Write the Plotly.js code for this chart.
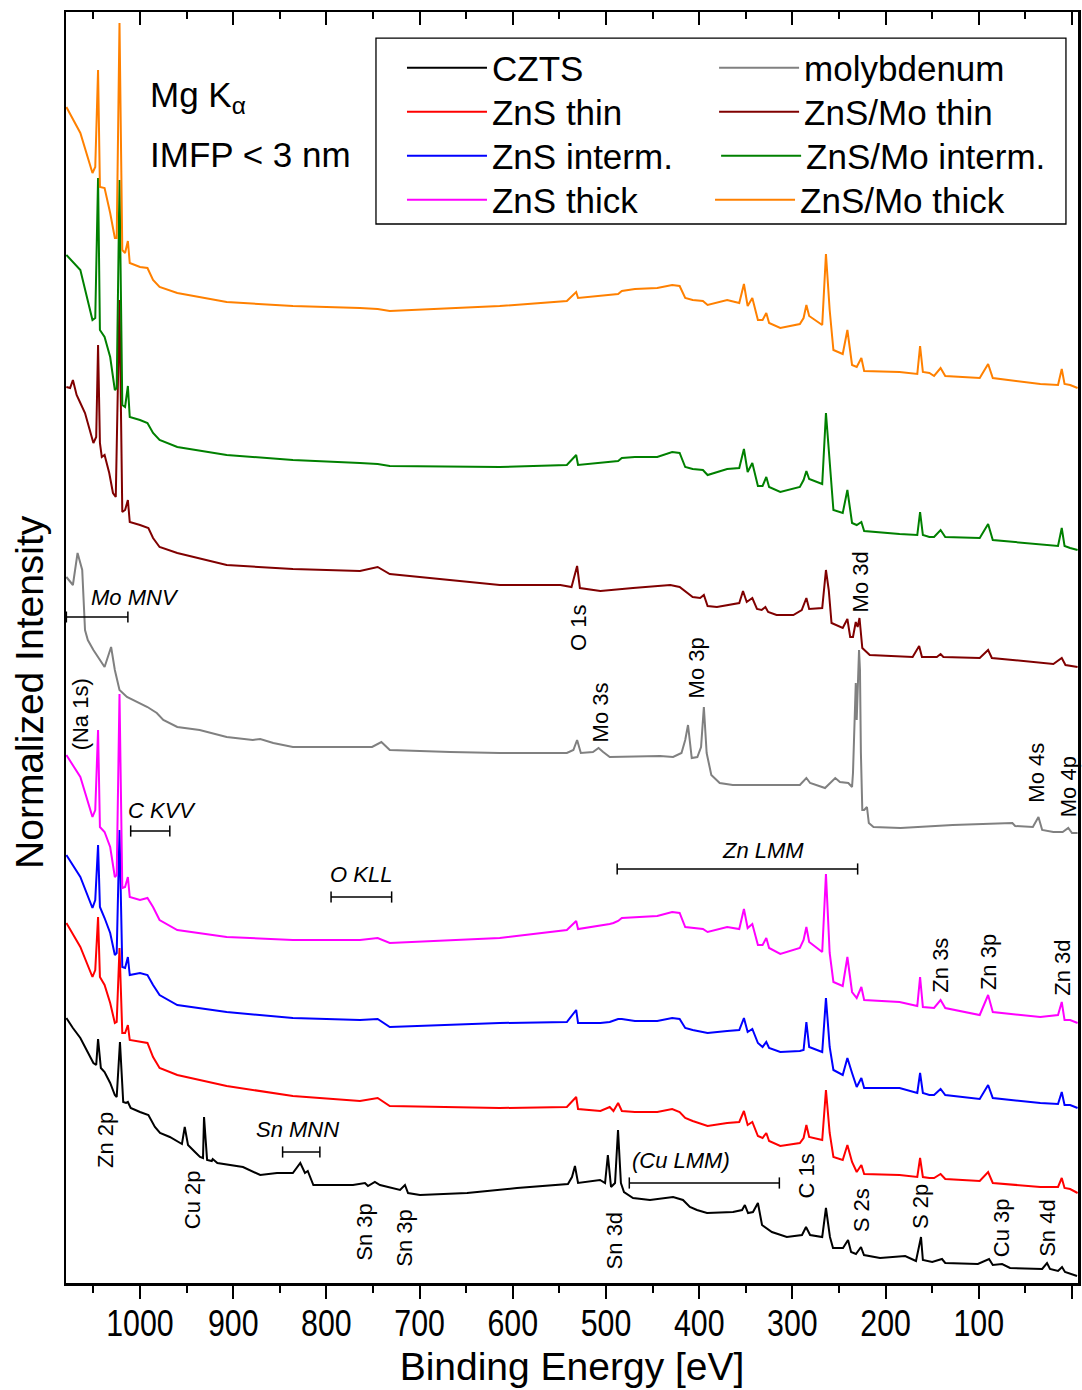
<!DOCTYPE html>
<html>
<head>
<meta charset="utf-8">
<script src="https://cdn.plot.ly/plotly-3.0.1.min.js"></script>
<style>html,body{margin:0;padding:0;background:#fff;}#chart{width:1082px;height:1390px;}</style>
</head>
<body>
<div id="chart"></div>
<script>
// ---------- data (binding energy in eV, normalized intensity in arbitrary offset units) ----------
const energyGrid = [1079,1064,1051,1048,1045,1043,1038,1032,1027,1025,1022,1019,1016,1013,1011,1000,992,986,979,960,907,836,764,745,732,614,542,532,530,506,496,492,487,483,469,445,429,421,415,407,396,391,370,357,352,348,343,337,332,328,325,313,292,288,285,282,268,264,260,256,246,241,236,231,226,223,185,166,163,160,153,148,141,136,99,90,85,34,15,11,8,2,-6];

const znsMoThick = [1176,1150,1110,1116,1213,1096,1095,1070,1045,1045,1260,1033,1030,1042,1020,1016,1015,1003,996,990,981,977,975,974,972,977,982,991,985,987,988,988,989,992,994,995,998,997,985,983,982,978,983,980,999,977,985,963,963,970,960,955,959,965,978,967,958,1029,973,933,929,953,918,916,925,912,911,909,937,911,910,907,915,907,905,919,905,899,898,914,899,898,895];

const znsMoInterm = [1028,1013,963,965,1105,953,946,926,893,895,1103,878,876,897,866,863,860,850,843,836,828,823,820,819,817,816,818,828,818,820,821,821,822,825,826,826,831,830,816,814,813,808,814,815,834,811,820,797,797,806,796,791,796,803,812,804,799,870,820,773,770,793,760,758,761,752,749,748,771,748,746,746,753,746,745,759,743,739,737,755,737,735,733];

const znsThick = [528,506,466,473,553,456,451,436,406,408,589,395,396,406,386,383,385,376,363,353,346,343,343,345,340,345,353,362,354,357,359,360,362,365,366,367,371,370,356,355,354,351,356,354,374,355,359,338,338,345,335,329,335,343,356,341,331,409,330,301,297,326,291,285,296,283,281,277,306,276,275,275,283,275,268,288,271,266,268,281,263,263,260];

const znsInterm = [428,406,375,383,438,376,365,350,328,330,453,316,315,326,308,310,308,298,288,278,271,265,263,264,256,260,261,273,260,260,261,262,264,264,262,262,265,264,255,253,251,250,252,253,265,251,254,240,236,241,235,231,232,233,261,236,231,285,236,213,208,225,210,196,205,195,195,190,210,190,188,188,194,188,184,198,185,180,179,191,178,178,175];

const znsThin = [360,336,306,313,366,306,298,280,260,261,335,250,250,258,243,241,240,226,215,208,197,187,182,185,177,175,176,186,174,172,176,172,180,172,171,171,174,171,165,162,159,157,160,161,172,158,161,147,145,150,142,137,140,145,158,146,143,193,150,126,123,138,121,111,118,109,108,106,125,106,105,105,109,104,102,111,100,96,96,105,95,94,90];

const znsMoThinEnergy = [1079,1075,1072,1068,1064,1059,1050,1047,1045,1043,1041,1038,1033,1029,1026,1022,1019,1016,1013,1011,1000,991,986,979,960,907,836,764,745,732,614,549,537,531,528,506,471,431,421,407,399,395,391,381,357,353,349,343,338,333,329,326,317,299,290,285,282,268,264,261,258,246,241,238,235,232,230,228,225,217,171,164,161,145,141,138,99,90,86,64,38,20,11,7,-6];
const znsMoThin = [896,895,903,888,880,870,840,846,938,840,826,828,810,790,786,983,771,773,783,761,758,755,745,736,730,718,714,712,716,709,698,698,696,717,695,692,695,698,696,686,685,688,677,676,680,692,681,685,674,673,676,671,668,668,673,685,674,675,713,693,660,655,664,646,646,661,656,665,635,628,626,637,626,626,629,626,625,633,625,623,621,619,625,618,616];

const molyEnergy = [1079,1072,1067,1062,1059,1056,1050,1038,1031,1027,1022,1014,992,982,975,960,936,907,879,871,857,836,764,751,741,732,667,614,542,535,531,527,514,508,503,496,442,428,419,415,412,408,402,398,395,392,387,378,364,292,285,281,265,260,254,249,240,236,235,232,231,228.5,227.5,226.5,225,223,220,218,213,184,128,64,61,42,36,32,20,10,4,0,-6];
const molybdenum = [706,698,730,713,653,643,633,616,636,613,593,586,576,570,563,556,553,546,543,544,540,536,536,536,541,533,531,530,530,533,543,530,531,535,531,526,527,526,530,543,558,525,526,536,576,530,508,500,498,498,505,500,495,500,505,501,500,496,510,600,563,633,613,530,473,473,476,460,456,455,458,460,457,456,466,453,451,451,455,450,450];

const cztsEnergy = [1079,1072,1064,1057,1050,1047,1045,1042,1038,1032,1027,1025,1021.5,1018,1015,1013,1010,1000,991,984,978.5,968,959,955,952,948.5,941,935.6,932.4,931.3,928,923,922,917,889.5,871,853,836,828,823,820,814,771.5,758.6,755.4,748,742.5,721,715.7,712.4,699.6,649,595.5,560,540.8,536.5,533.3,530,506.4,501,498,494.6,490.3,487.1,484,480.7,471,452.8,428,417.4,410,402.4,391.6,363.7,354,351,347.6,342.3,337,332.6,322,306,289.7,285.4,281,268,264,259.7,256.4,245.7,240.3,237,231.8,226.4,223.2,206,179,167.4,162,160,150,139.5,136,101,89,85,75,66.5,32,26.8,23.6,15,10.7,7.5,-5.4];
const czts = [265,255,245,233,220,218,244,215,211,200,188,186,241,181,180,181,175,171,168,156,150,146,141,139,156,138,131,126,125,166,123,122,124,120,116,108,110,110,120,110,112,98,98,100,97,101,98,93,98,90,88,90,95,98,99,106,117,100,103,100,128,96,100,153,100,91,85,83,86,83,76,73,70,71,73,78,70,71,80,58,51,46,48,56,48,46,75,46,35,35,43,31,29,36,28,25,27,22,46,23,21,24,20,19,24,18,19,15,14,20,14,12,16,11,7];

// Auger regions (label, start eV, end eV, intensity level)
const augerNames = ['Mo MNV','C KVV','O KLL','Zn LMM','Sn MNN','(Cu LMM)'];
const augerStart = [1079,1010,795,488,847,475];
const augerEnd   = [1013,968,730,230,807,314];
const augerLevel = [666,452,386,414,131,100];
const augerLabelE = [1005,976,763,331.5,831.5,419.5];
const augerLabelY = [686,473,409,433,154,123];

// Peak labels (rotated)
const peakNames = ['Zn 2p','Cu 2p','Sn 3p','Sn 3p','Sn 3d','C 1s','S 2s','S 2p','Cu 3p','Sn 4d','O 1s','Mo 3s','Mo 3p','Mo 3d','Mo 4s','Mo 4p','Zn 3s','Zn 3p','Zn 3d','(Na 1s)'];
const peakLabelE = [1037.6,944,760,717,491,285,226,163,76,27,530,506,403,227,39,4,142,90,11,1064];
const peakLabelY = [143,83,51,45,43,107,73,76,55,55,655,571,615,701,510,496,318,321,315,569];

// ---------- figure ----------
const SANS = 'Arial, "Liberation Sans", sans-serif';

const series = [
  {name:'CZTS', x:cztsEnergy, y:czts, color:'#000000'},
  {name:'ZnS thin', x:energyGrid, y:znsThin, color:'#ff0000'},
  {name:'ZnS interm.', x:energyGrid, y:znsInterm, color:'#0000ff'},
  {name:'ZnS thick', x:energyGrid, y:znsThick, color:'#ff00ff'},
  {name:'molybdenum', x:molyEnergy, y:molybdenum, color:'#808080'},
  {name:'ZnS/Mo thin', x:znsMoThinEnergy, y:znsMoThin, color:'#800000'},
  {name:'ZnS/Mo interm.', x:energyGrid, y:znsMoInterm, color:'#008000'},
  {name:'ZnS/Mo thick', x:energyGrid, y:znsMoThick, color:'#ff8000'}
];

// legend entry placement (one small legend per entry: two columns of four)
const legendX = [0.3320,0.3320,0.3320,0.3320,0.6404,0.6404,0.6424,0.6364];
const legendY = [0.9791,0.9445,0.9099,0.8753,0.9791,0.9445,0.9099,0.8753];

const traces = series.map((s,i) => ({
  type:'scatter', mode:'lines', name:s.name, x:s.x, y:s.y,
  line:{color:s.color, width:2}, legend: i === 0 ? 'legend' : 'legend' + (i+1), hoverinfo:'x+name'
}));

augerNames.forEach((n,i) => {
  traces.push({
    type:'scatter', mode:'lines+markers', xaxis:'x2', yaxis:'y',
    x:[augerStart[i], augerEnd[i]], y:[augerLevel[i], augerLevel[i]],
    line:{color:'#000', width:1.5},
    marker:{symbol:'line-ns', size:8, line:{color:'#000', width:1.5}},
    showlegend:false, hoverinfo:'skip'
  });
});

const annotations = [];
peakNames.forEach((n,i) => annotations.push({
  text:n, x:peakLabelE[i], y:peakLabelY[i], xref:'x', yref:'y',
  textangle:-90, showarrow:false, font:{family:SANS, size:22, color:'#000'}
}));
augerNames.forEach((n,i) => annotations.push({
  text:'<i>'+n+'</i>', x:augerLabelE[i], y:augerLabelY[i], xref:'x', yref:'y',
  showarrow:false, font:{family:SANS, size:22, color:'#000'}
}));
annotations.push({text:'Mg K<sub>α</sub>', xref:'paper', yref:'paper', x:0.081, y:0.933,
  xanchor:'left', yanchor:'middle', showarrow:false, font:{family:SANS, size:35, color:'#000'}});
annotations.push({text:'IMFP &lt; 3 nm', xref:'paper', yref:'paper', x:0.081, y:0.8875,
  xanchor:'left', yanchor:'middle', showarrow:false, font:{family:SANS, size:35, color:'#000'}});
annotations.push({text:'Normalized Intensity', xref:'paper', yref:'paper', x:-0.0356, y:0.465,
  xanchor:'center', yanchor:'middle', textangle:-90, showarrow:false, font:{family:SANS, size:39, color:'#000'}});

const xRange = [1079.4, -6.44];
const layout = {
  width:1082, height:1390,
  margin:{l:66, r:4, t:12, b:107, pad:0},
  paper_bgcolor:'#fff', plot_bgcolor:'#fff',
  showlegend:true,
  xaxis:{
    range:xRange, showgrid:false, zeroline:false,
    showline:true, linecolor:'#000', linewidth:2.5,
    ticks:'outside', ticklen:13, tickwidth:2, tickcolor:'#000', dtick:100, tick0:0,
    minor:{dtick:50, ticks:'outside', ticklen:7, tickwidth:2, tickcolor:'#000', showgrid:false},
    tickfont:{family:SANS, size:37, color:'#000'}, ticklabelstandoff:-7,
    title:{text:'Binding Energy [eV]', font:{family:SANS, size:39, color:'#000'}, standoff:10},
    fixedrange:true
  },
  xaxis2:{
    range:xRange, overlaying:'x', side:'top', anchor:'y', showgrid:false, zeroline:false,
    showline:true, linecolor:'#000', linewidth:2.5,
    ticks:'inside', ticklen:13, tickwidth:2, tickcolor:'#000', dtick:100, tick0:0,
    minor:{dtick:50, ticks:'inside', ticklen:7, tickwidth:2, tickcolor:'#000', showgrid:false},
    showticklabels:false, fixedrange:true
  },
  yaxis:{
    range:[0,1271], showgrid:false, zeroline:false, showline:true, mirror:true,
    linecolor:'#000', linewidth:2.5, ticks:'', showticklabels:false, fixedrange:true
  },
  shapes:[{type:'rect', xref:'paper', yref:'paper', x0:0.3063, x1:0.9881, y0:0.8332, y1:0.9795,
    line:{color:'#000', width:1.3}, fillcolor:'rgba(0,0,0,0)', layer:'above'}],
  annotations:annotations
};
series.forEach((s,i) => {
  layout[i === 0 ? 'legend' : 'legend' + (i+1)] = {
    x:legendX[i], xanchor:'left', y:legendY[i], yanchor:'top',
    bgcolor:'rgba(0,0,0,0)', borderwidth:0, itemwidth:80,
    font:{family:SANS, size:35, color:'#000'}
  };
});

Plotly.newPlot('chart', traces, layout, {displayModeBar:false, staticPlot:true}).then(() => {
  // the reference tick labels use a condensed face: compress them horizontally
  document.querySelectorAll('#chart .xtick text').forEach(t => {
    const w = t.getComputedTextLength();
    if (w > 0) {
      t.setAttribute('textLength', (w * 0.82).toFixed(1));
      t.setAttribute('lengthAdjust', 'spacingAndGlyphs');
    }
  });
});
</script>
</body>
</html>
